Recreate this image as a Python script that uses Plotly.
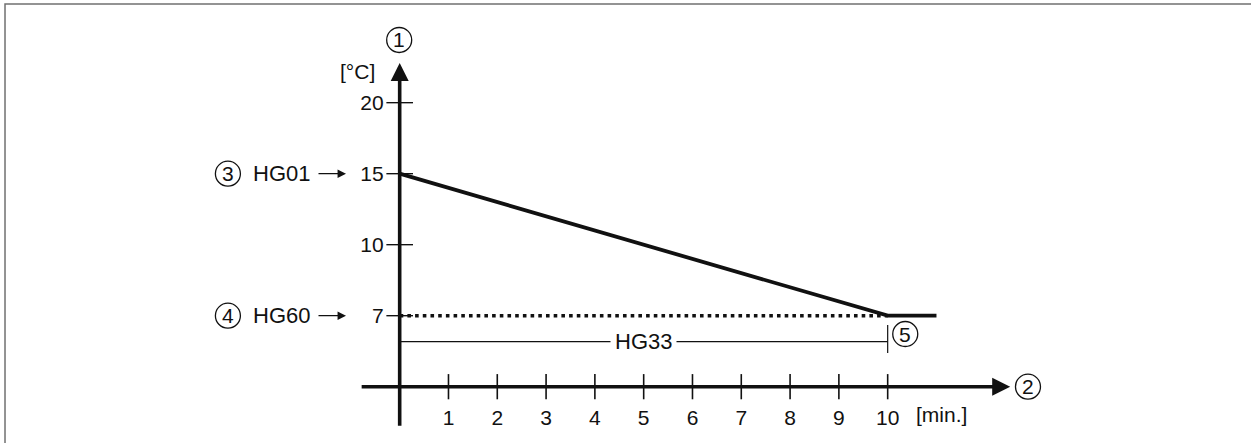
import plotly.graph_objects as go

# schematic temperature axis: levels are evenly spaced, "0" is where the time axis sits
temp_levels = ["0", "7", "10", "15", "20"]
temp_ticks = ["7", "10", "15", "20"]
time_ticks = [1, 2, 3, 4, 5, 6, 7, 8, 9, 10]

# setpoint ramp from HG01 down to HG60 within HG33 minutes
curve_t = [0, 10, 11]
curve_temp = ["15", "7", "7"]
min_t = [0, 10]
min_temp = ["7", "7"]
hg33_end = 10

FONT = "Liberation Sans, Arial, sans-serif"
BLACK = "#111111"

fig = go.Figure()

# tick marks crossing the axes
fig.add_trace(go.Scatter(x=time_ticks, y=["0"] * len(time_ticks), mode="markers",
                         marker=dict(symbol="line-ns", size=18, line=dict(width=1.6, color=BLACK)),
                         hoverinfo="skip"))
fig.add_trace(go.Scatter(x=[0] * len(temp_ticks), y=temp_ticks, mode="markers",
                         marker=dict(symbol="line-ew", size=19, line=dict(width=1.4, color=BLACK)),
                         hoverinfo="skip"))
# HG60 level (dotted)
fig.add_trace(go.Scatter(x=min_t, y=min_temp, mode="lines",
                         line=dict(color=BLACK, width=3.6, dash="3.6px,4.1px")))
# ramp
fig.add_trace(go.Scatter(x=curve_t, y=curve_temp, mode="lines",
                         line=dict(color=BLACK, width=3.8)))

shapes = []
annotations = []

# frame (top + left only)
shapes.append(dict(type="path", xref="paper", yref="paper",
                   path="M 0.004,0 L 0.004,0.991 L 1,0.991",
                   line=dict(color="#707070", width=1.5)))

# HG33 dimension line
shapes.append(dict(type="line", xref="x", yref="y", x0=0, x1=hg33_end, y0=0.634, y1=0.634,
                   line=dict(color=BLACK, width=1.2)))
shapes.append(dict(type="line", xref="x", yref="y", x0=hg33_end, x1=hg33_end, y0=0.475, y1=0.87,
                   line=dict(color=BLACK, width=1.2)))
annotations.append(dict(x=5.0, y=0.634, xref="x", yref="y", text="HG33", showarrow=False,
                        bgcolor="white", borderpad=4, font=dict(size=22)))

# axes with arrow heads
annotations.append(dict(x=12.51, y=0, ax=-0.81, ay=0, xref="x", yref="y", axref="x", ayref="y",
                        text="", showarrow=True, arrowhead=2, arrowwidth=3.6, arrowsize=1,
                        arrowcolor=BLACK))
annotations.append(dict(x=0, y=4.56, ax=0, ay=-0.57, xref="x", yref="y", axref="x", ayref="y",
                        text="", showarrow=True, arrowhead=2, arrowwidth=3.6, arrowsize=1,
                        arrowcolor=BLACK))

# axis units
annotations.append(dict(x=-0.465, y=4.446, xref="x", yref="y", text="[°C]", showarrow=False,
                        xanchor="right", font=dict(size=21)))
annotations.append(dict(x=11.11, y=-0.39, xref="x", yref="y", text="[min.]", showarrow=False,
                        font=dict(size=21)))

# parameter labels with small arrows
for lvl, name in [(3, "HG01"), (1, "HG60")]:
    annotations.append(dict(x=-1.797, y=lvl, xref="x", yref="y", text=name, showarrow=False,
                            xanchor="right", font=dict(size=22)))
    annotations.append(dict(x=-1.10, y=lvl, ax=-29, ay=0, xref="x", yref="y", text="",
                            showarrow=True, arrowhead=2, arrowwidth=1.3, arrowsize=1.3,
                            arrowcolor=BLACK))

# circled reference numbers
for num, cx, cy in [("1", -0.01, 4.883), ("2", 12.875, 0), ("3", -3.52, 3),
                    ("4", -3.52, 1), ("5", 10.36, 0.742)]:
    shapes.append(dict(type="circle", xref="x", yref="y", xsizemode="pixel", ysizemode="pixel",
                       xanchor=cx, yanchor=cy, x0=-12.5, x1=12.5, y0=-12.5, y1=12.5,
                       line=dict(color=BLACK, width=1.3)))
    annotations.append(dict(x=cx, y=cy, xref="x", yref="y", text=num, showarrow=False,
                            font=dict(size=21)))

fig.update_layout(
    width=1251, height=443,
    margin=dict(l=0, r=0, t=0, b=0, pad=0),
    paper_bgcolor="white", plot_bgcolor="white",
    showlegend=False,
    font=dict(family=FONT, color=BLACK, size=21),
    shapes=shapes, annotations=annotations,
    xaxis=dict(range=[-8.19, 17.445], anchor="free", position=0.1271,
               showgrid=False, zeroline=False, showline=False, ticks="",
               tickmode="array", tickvals=time_ticks, ticklabelstandoff=16,
               tickfont=dict(size=21)),
    yaxis=dict(type="category", categoryorder="array", categoryarray=temp_levels,
               range=[-0.793, 5.446], anchor="free", position=0.3195,
               showgrid=False, zeroline=False, showline=False, ticks="",
               tickmode="array", tickvals=temp_ticks, ticklabelstandoff=16,
               tickfont=dict(size=21)),
)

fig.write_html("out.html", config={"displayModeBar": False},
               post_script="document.body.style.margin='0';")
